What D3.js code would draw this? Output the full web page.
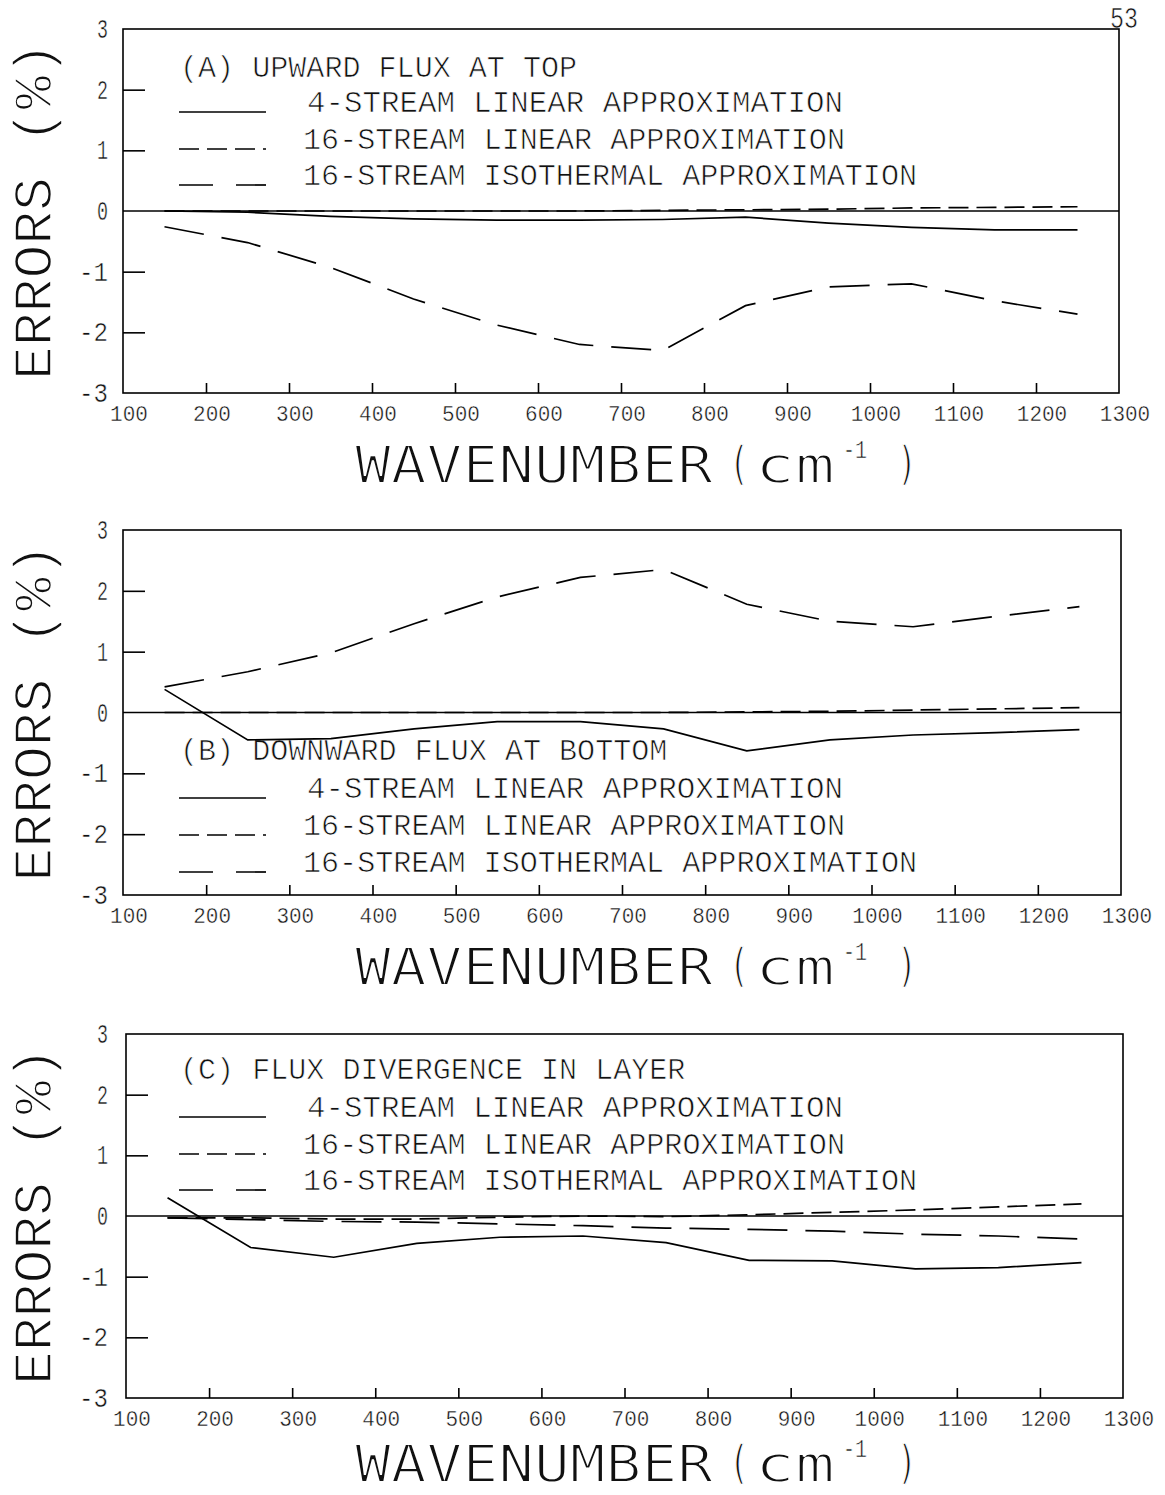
<!DOCTYPE html>
<html><head><meta charset="utf-8">
<script src="https://cdn.jsdelivr.net/npm/d3@7"></script>
<style>body{margin:0;background:#fff} text{fill:#111}</style>
</head><body>
<svg id="chart" width="1165" height="1495"></svg>
<script>
// ---------- data ----------
const wavenumbers = [150,250,350,450,550,650,750,850,950,1050,1150,1250];
const xTickValues = [100,200,300,400,500,600,700,800,900,1000,1100,1200,1300];
const yTickValues = [-3,-2,-1,0,1,2,3];
const seriesNames = ["4-STREAM LINEAR APPROXIMATION","16-STREAM LINEAR APPROXIMATION","16-STREAM ISOTHERMAL APPROXIMATION"];
const panelTitles = ["(A) UPWARD FLUX AT TOP","(B) DOWNWARD FLUX AT BOTTOM","(C) FLUX DIVERGENCE IN LAYER"];

const upwardFourStreamLinear     = [0,-0.02,-0.09,-0.13,-0.15,-0.15,-0.14,-0.10,-0.20,-0.27,-0.31,-0.31];
const upwardSixteenStreamLinear  = [0,0,0,0,0,0,0.01,0.02,0.03,0.05,0.06,0.07];
const upwardSixteenStreamIso     = [-0.26,-0.52,-0.93,-1.45,-1.88,-2.20,-2.30,-1.56,-1.25,-1.20,-1.48,-1.70];

const downwardFourStreamLinear    = [0.38,-0.45,-0.43,-0.27,-0.15,-0.15,-0.27,-0.63,-0.45,-0.37,-0.33,-0.28];
const downwardSixteenStreamLinear = [0,0,0,0,0,0,0,0.01,0.02,0.04,0.06,0.08];
const downwardSixteenStreamIso    = [0.42,0.67,0.98,1.46,1.90,2.22,2.35,1.78,1.50,1.41,1.58,1.74];

const divergenceFourStreamLinear    = [0.30,-0.52,-0.68,-0.45,-0.35,-0.33,-0.44,-0.73,-0.74,-0.87,-0.85,-0.77];
const divergenceSixteenStreamLinear = [-0.03,-0.03,-0.05,-0.05,-0.02,0,-0.01,0.02,0.06,0.10,0.15,0.20];
const divergenceSixteenStreamIso    = [-0.03,-0.06,-0.09,-0.10,-0.13,-0.16,-0.20,-0.22,-0.25,-0.30,-0.33,-0.38];

// ---------- layout ----------
const FONT = "'Liberation Mono','DejaVu Sans Mono',monospace";
const TITLE_FONT = "'DejaVu Sans Mono','Liberation Mono',monospace";
const panelLayout = [
  {left:123, right:1119, top:29,   bottom:393,  legendBase:[48,83,120,156], titleGap:90},
  {left:123, right:1121, top:530,  bottom:895,  legendBase:[230,268,305,342], titleGap:90},
  {left:126, right:1123, top:1034, bottom:1398, legendBase:[45,83,120,156], titleGap:84}
];
const dashStyles = [null, "20,8", "40,18"];
const legendTextX = [307,303,303];
const legendTextEnd = [843,845,917];

const panels = [
  {title:panelTitles[0], series:[upwardFourStreamLinear,upwardSixteenStreamLinear,upwardSixteenStreamIso]},
  {title:panelTitles[1], series:[downwardFourStreamLinear,downwardSixteenStreamLinear,downwardSixteenStreamIso]},
  {title:panelTitles[2], series:[divergenceFourStreamLinear,divergenceSixteenStreamLinear,divergenceSixteenStreamIso]}
];

const svg = d3.select("#chart");

// thin-stroke text helper (white halo thins the glyphs to mimic a plotter font)
function thin(sel, w){ return sel.attr("stroke","#fff").attr("stroke-width",w).attr("paint-order","normal"); }

// page number
thin(svg.append("text").attr("x",1110).attr("y",28).attr("font-family",FONT)
  .attr("font-size",30).attr("textLength",28).attr("lengthAdjust","spacingAndGlyphs").text("53"),0.6);

panels.forEach((p,i)=>{
  const L = panelLayout[i];
  const x = d3.scaleLinear().domain([100,1300]).range([L.left,L.right]);
  const y = d3.scaleLinear().domain([-3,3]).range([L.bottom,L.top]);
  const g = svg.append("g");

  // legend text first so lines draw over it
  const lb = L.legendBase.map(v=>L.top+v);
  thin(g.append("text").attr("x",180).attr("y",lb[0]).attr("font-family",FONT).attr("font-size",29)
    .attr("textLength",p.title.length*18.05).attr("lengthAdjust","spacingAndGlyphs").text(p.title),0.7);
  seriesNames.forEach((name,k)=>{
    const yy = lb[k+1];
    thin(g.append("text").attr("x",legendTextX[k]).attr("y",yy).attr("font-family",FONT).attr("font-size",29)
      .attr("textLength",legendTextEnd[k]-legendTextX[k]).attr("lengthAdjust","spacingAndGlyphs").text(name),0.7);
    g.append("line").attr("x1",179).attr("x2",266).attr("y1",yy).attr("y2",yy)
      .attr("stroke","#000").attr("stroke-width",1.7)
      .attr("stroke-dasharray",k===2?"34,23":dashStyles[k]);
  });

  // frame
  g.append("rect").attr("x",L.left).attr("y",L.top).attr("width",L.right-L.left).attr("height",L.bottom-L.top)
    .attr("fill","none").attr("stroke","#000").attr("stroke-width",1.6);

  // x axis (ticks inward)
  const xAxis = d3.axisTop(x).tickValues(xTickValues.slice(1,-1)).tickSize(10).tickFormat("");
  const xa = g.append("g").attr("transform",`translate(0,${L.bottom})`).call(xAxis);
  xa.select(".domain").remove();
  xa.selectAll("line").attr("stroke","#000").attr("stroke-width",1.6);

  // y axis (ticks inward)
  const yAxis = d3.axisRight(y).tickValues(yTickValues.filter(v=>v>-3&&v<3&&v!==0)).tickSize(22).tickFormat("");
  const ya = g.append("g").attr("transform",`translate(${L.left},0)`).call(yAxis);
  ya.select(".domain").remove();
  ya.selectAll("line").attr("stroke","#000").attr("stroke-width",1.6);

  // zero line
  g.append("line").attr("x1",L.left).attr("x2",L.right).attr("y1",y(0)).attr("y2",y(0))
    .attr("stroke","#000").attr("stroke-width",1.6);

  // x tick labels
  thin(g.selectAll(".xl").data(xTickValues).enter().append("text")
    .attr("x",d=>x(d)+6).attr("y",L.bottom+28).attr("text-anchor","middle")
    .attr("font-family",FONT).attr("font-size",22)
    .attr("textLength",d=>String(d).length*12.6).attr("lengthAdjust","spacingAndGlyphs")
    .text(d=>d),0.4);

  // y tick labels
  thin(g.selectAll(".yl").data(yTickValues).enter().append("text")
    .attr("x",108).attr("y",d=>y(d)+9).attr("text-anchor","end")
    .attr("font-family",FONT).attr("font-size",27)
    .attr("textLength",d=>d<0?29:11).attr("lengthAdjust","spacingAndGlyphs")
    .text(d=>d<0?"-"+Math.abs(d):d),0.5);

  // y axis title
  thin(g.append("text").attr("transform",`translate(51,${(L.top+L.bottom)/2}) rotate(-90)`)
    .attr("text-anchor","middle").attr("font-family",FONT).attr("font-size",54)
    .attr("textLength",338).attr("lengthAdjust","spacingAndGlyphs").text("ERRORS (%)"),1.6);

  // x axis title
  const tb = L.bottom + L.titleGap;
  thin(g.append("text").attr("x",355).attr("y",tb).attr("font-family",TITLE_FONT).attr("font-size",51)
    .attr("textLength",358).attr("lengthAdjust","spacingAndGlyphs").text("WAVENUMBER"),1.8);
  thin(g.append("text").attr("x",729).attr("y",tb-4).attr("font-family",TITLE_FONT).attr("font-size",46)
    .attr("textLength",20).attr("lengthAdjust","spacingAndGlyphs").text("("),1.4);
  thin(g.append("text").attr("x",755).attr("y",tb).attr("font-family",TITLE_FONT).attr("font-size",51)
    .attr("textLength",80).attr("lengthAdjust","spacingAndGlyphs").text("cm"),1.8);
  thin(g.append("text").attr("x",843).attr("y",tb-25).attr("font-family",FONT).attr("font-size",26)
    .attr("textLength",24).attr("lengthAdjust","spacingAndGlyphs").text("-1"),0.6);
  thin(g.append("text").attr("x",897).attr("y",tb-4).attr("font-family",TITLE_FONT).attr("font-size",46)
    .attr("textLength",20).attr("lengthAdjust","spacingAndGlyphs").text(")"),1.4);

  // data lines
  const line = d3.line().x((d,k)=>x(wavenumbers[k])).y(d=>y(d));
  p.series.forEach((s,k)=>{
    g.append("path").datum(s).attr("d",line).attr("fill","none").attr("stroke","#000")
      .attr("stroke-width",1.7).attr("stroke-dasharray",dashStyles[k]);
  });
});
</script>
</body></html>
